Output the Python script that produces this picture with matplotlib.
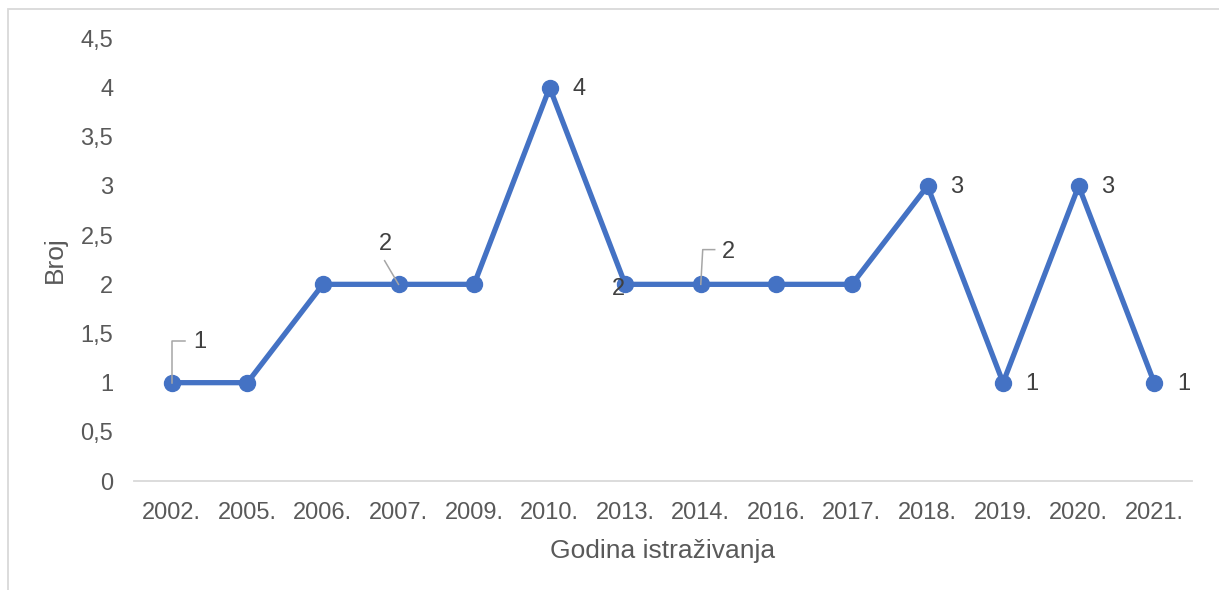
import matplotlib
matplotlib.use("Agg")
import matplotlib.pyplot as plt
from matplotlib.patches import Rectangle

plt.rcParams['font.family'] = ['Liberation Sans', 'DejaVu Sans']

years = ["2002.", "2005.", "2006.", "2007.", "2009.", "2010.", "2013.",
         "2014.", "2016.", "2017.", "2018.", "2019.", "2020.", "2021."]
counts = [1, 1, 2, 2, 2, 4, 2, 2, 2, 2, 3, 1, 3, 1]
yticks = [0, 0.5, 1, 1.5, 2, 2.5, 3, 3.5, 4, 4.5]
ytick_labels = ["0", "0,5", "1", "1,5", "2", "2,5", "3", "3,5", "4", "4,5"]
x_title = "Godina istraživanja"
y_title = "Broj"

# labelled points: index -> (label offset in points, leader path in points or None)
label_specs = {
    0: ((20, 29), [(0, 0), (0, 30), (9.5, 30)]),
    3: ((-9.5, 29), [(0, 0), (-10, 17)]),
    5: ((21, -1), None),
    6: ((-5, -3), None),
    7: ((20, 23), [(0, 0), (1.4, 25), (10, 25)]),
    10: ((21, -1), None),
    11: ((21, -1), None),
    12: ((21, -1), None),
    13: ((21, -1), None),
}

W, H = 1219, 590
fig = plt.figure(figsize=(W / 100, H / 100), dpi=100)
ax = fig.add_axes([134 / W, (H - 481) / H, (1192 - 134) / W, (481 - 38.5) / H])

x = list(range(len(years)))
ax.plot(x, counts, color="#4472C4", linewidth=3.8, marker="o", markersize=11.5,
        solid_capstyle="round", solid_joinstyle="round", zorder=3)

ax.set_xlim(-0.5, len(years) - 0.5)
ax.set_ylim(0, 4.5)
ax.set_yticks(yticks)
ax.set_yticklabels(ytick_labels)
ax.set_xticks(x)
ax.set_xticklabels(years)
ax.tick_params(axis="both", length=0, labelsize=17, colors="#595959")
ax.tick_params(axis="y", pad=15)
ax.tick_params(axis="x", pad=15)
for s in ["top", "right", "left"]:
    ax.spines[s].set_visible(False)
ax.spines["bottom"].set_color("#D9D9D9")
ax.spines["bottom"].set_linewidth(1.3)

ax.set_xlabel(x_title, fontsize=19, color="#595959", labelpad=11)
ax.set_ylabel(y_title, fontsize=19, color="#595959", labelpad=10)

for i, ((dx, dy), path) in label_specs.items():
    ax.annotate(str(counts[i]), (x[i], counts[i]), xytext=(dx, dy),
                textcoords="offset points", ha="center", va="center",
                fontsize=17, color="#404040", zorder=5)
    if path:
        base = ax.transData.transform((x[i], counts[i]))
        pts = [(base[0] + px * fig.dpi / 72, base[1] + py * fig.dpi / 72) for px, py in path]
        inv = ax.transData.inverted()
        dpts = [inv.transform(p) for p in pts]
        ax.plot([p[0] for p in dpts], [p[1] for p in dpts], color="#A6A6A6",
                linewidth=1.1, zorder=4, clip_on=False)

# outer chart frame (partially cropped)
fig.patches.append(Rectangle((8 / W, -0.1), 1.2, (H - 9) / H + 0.1,
                             transform=fig.transFigure, fill=False,
                             edgecolor="#D9D9D9", linewidth=1.3))

fig.savefig("out.png", dpi=100)
